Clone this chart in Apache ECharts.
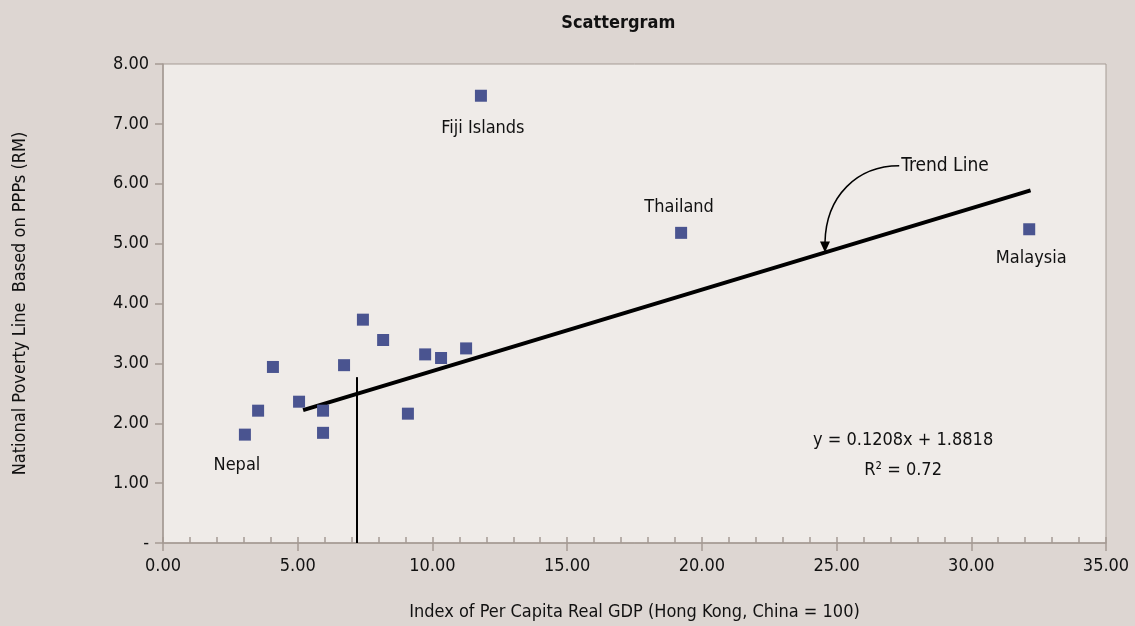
<!DOCTYPE html>
<html>
<head>
<meta charset="utf-8">
<script src="https://cdn.jsdelivr.net/npm/echarts@6/dist/echarts.min.js"></script>
<style>
  html, body { margin: 0; padding: 0; background: #ddd6d2; }
  #chart { width: 1135px; height: 626px; }
</style>
</head>
<body>
<div id="chart"></div>
<script>
// Per capita real GDP index (Hong Kong, China = 100) vs national poverty line (RM)
const gdpIndex   = [3.04, 3.53, 4.08, 5.05, 5.94, 5.94, 6.72, 7.42, 8.17, 9.09, 9.73, 10.32, 11.25, 11.80, 19.23, 32.15];
const povertyRM  = [1.81, 2.21, 2.94, 2.36, 2.21, 1.84, 2.97, 3.73, 3.39, 2.16, 3.15, 3.09, 3.25, 7.47, 5.18, 5.24];
const countries  = ['Nepal', '', '', '', '', '', '', '', '', '', '', '', '', 'Fiji Islands', 'Thailand', 'Malaysia'];

// Trend line as drawn, and the vertical reference line
const trendX = [5.2, 32.2];
const trendY = [2.22, 5.89];
const refX = [7.2, 7.2];
const refY = [0, 2.77];

const xTicks = [0, 5, 10, 15, 20, 25, 30, 35];
const yTicks = [0, 1, 2, 3, 4, 5, 6, 7, 8];
const chartTitle = 'Scattergram';
const equationText = 'y = 0.1208x + 1.8818';
const rSquaredText = 'R\u00B2 = 0.72';
const trendLabel = 'Trend Line';

const FONT = '"Liberation Sans Narrow", "DejaVu Sans Condensed", "Roboto Condensed", sans-serif';
const INK = '#111111';
const AXIS = '#a59b94';

// Where each country label sits relative to its marker
const labelPlace = {
  'Nepal':        { position: 'bottom', distance: 16, offset: [-8, 0] },
  'Fiji Islands': { position: 'bottom', distance: 18, offset: [2, 0] },
  'Thailand':     { position: 'top',    distance: 11, offset: [-2, 0] },
  'Malaysia':     { position: 'bottom', distance: 14, offset: [2, 0] }
};

const points = gdpIndex.map((x, i) => {
  const item = { value: [x, povertyRM[i]], name: countries[i] };
  const p = labelPlace[countries[i]];
  if (p) {
    item.label = Object.assign({ show: true, formatter: '{b}' }, p);
  }
  return item;
});

const chart = echarts.init(document.getElementById('chart'), null, { renderer: 'canvas' });

const xMin = xTicks[0], xMax = xTicks[xTicks.length - 1];
const yMin = yTicks[0], yMax = yTicks[yTicks.length - 1];

chart.setOption({
  backgroundColor: '#ddd6d2',
  animation: false,
  textStyle: { fontFamily: FONT },
  grid: {
    left: 163, right: 29, top: 64, bottom: 80,
    show: true, backgroundColor: '#efebe8', borderColor: AXIS, borderWidth: 1
  },
  xAxis: [
    {
      type: 'value', min: xMin, max: xMax, interval: 5,
      name: 'Index of Per Capita Real GDP (Hong Kong, China = 100)',
      nameLocation: 'middle', nameGap: 60,
      nameTextStyle: { fontFamily: FONT, fontSize: 18, color: INK },
      axisLine: { show: true, lineStyle: { color: AXIS, width: 1.5 } },
      axisTick: { show: true, length: 8, lineStyle: { color: AXIS, width: 1.5 } },
      axisLabel: { margin: 14, fontFamily: FONT, fontSize: 18, color: INK, formatter: v => v.toFixed(2) },
      splitLine: { show: false }
    },
    {
      // inward minor ticks every unit
      type: 'value', min: xMin, max: xMax, interval: 1, position: 'bottom',
      axisLine: { show: false },
      axisTick: { show: true, inside: true, length: 6, lineStyle: { color: AXIS, width: 1.5 } },
      axisLabel: { show: false },
      splitLine: { show: false }
    }
  ],
  yAxis: {
    type: 'value', min: yMin, max: yMax, interval: 1,
    name: 'National Poverty Line  Based on PPPs (RM)',
    nameLocation: 'middle', nameGap: 134, nameRotate: 90,
    nameTextStyle: { fontFamily: FONT, fontSize: 18, color: INK },
    axisLine: { show: true, lineStyle: { color: AXIS, width: 1.5 } },
    axisTick: { show: true, length: 8, lineStyle: { color: AXIS, width: 1.5 } },
    axisLabel: { margin: 14, fontFamily: FONT, fontSize: 18, color: INK, formatter: v => v === 0 ? '-' : v.toFixed(2) },
    splitLine: { show: false }
  },
  series: [
    {
      type: 'line',
      data: refX.map((x, i) => [x, refY[i]]),
      symbol: 'none', silent: true,
      lineStyle: { color: '#000', width: 2 },
      z: 2
    },
    {
      type: 'line',
      data: trendX.map((x, i) => [x, trendY[i]]),
      symbol: 'none', silent: true,
      lineStyle: { color: '#000', width: 4, cap: 'butt' },
      z: 3
    },
    {
      type: 'scatter',
      data: points,
      symbol: 'rect', symbolSize: 12,
      itemStyle: { color: '#4a5490', opacity: 1 },
      label: { show: false, fontFamily: FONT, fontSize: 18, color: INK },
      emphasis: { disabled: true },
      z: 4
    }
  ]
});

// Title and annotations placed from data coordinates
function drawAnnotations() {
  const toPx = (x, y) => chart.convertToPixel({ xAxisIndex: 0, yAxisIndex: 0 }, [x, y]);
  const slope = (trendY[1] - trendY[0]) / (trendX[1] - trendX[0]);
  const tipX = 24.57;
  const tip = toPx(tipX, trendY[0] + slope * (tipX - trendX[0]));
  const textAnchor = toPx(27.4, 6.3);
  const eq1 = toPx(27.47, 1.71);
  const eq2 = toPx(27.47, 1.21);
  const titlePos = toPx(16.9, 8.68);
  const startX = textAnchor[0] - 2, startY = textAnchor[1];
  const endY = tip[1] - 10;

  chart.setOption({
    graphic: [
      {
        type: 'text',
        x: titlePos[0], y: titlePos[1],
        style: { text: chartTitle, font: 'bold 18px ' + FONT, fill: INK, textAlign: 'center', textVerticalAlign: 'middle' },
        z: 10
      },
      {
        type: 'bezierCurve',
        shape: {
          x1: startX, y1: startY,
          cpx1: startX - 42, cpy1: startY,
          cpx2: tip[0] + 1, cpy2: startY + 30,
          x2: tip[0], y2: endY
        },
        style: { stroke: '#000', lineWidth: 1.5, fill: null },
        z: 10
      },
      {
        type: 'polygon',
        shape: { points: [[tip[0] - 5, endY - 1], [tip[0] + 5, endY - 1], [tip[0], tip[1]]] },
        style: { fill: '#000' },
        z: 10
      },
      {
        type: 'text',
        x: textAnchor[0], y: textAnchor[1],
        style: { text: trendLabel, font: '19px ' + FONT, fill: INK, textAlign: 'left', textVerticalAlign: 'middle' },
        z: 10
      },
      {
        type: 'text',
        x: eq1[0], y: eq1[1],
        style: { text: equationText, font: '18px ' + FONT, fill: INK, textAlign: 'center', textVerticalAlign: 'middle' },
        z: 10
      },
      {
        type: 'text',
        x: eq2[0], y: eq2[1],
        style: { text: rSquaredText, font: '18px ' + FONT, fill: INK, textAlign: 'center', textVerticalAlign: 'middle' },
        z: 10
      }
    ]
  });
}
drawAnnotations();
</script>
</body>
</html>
